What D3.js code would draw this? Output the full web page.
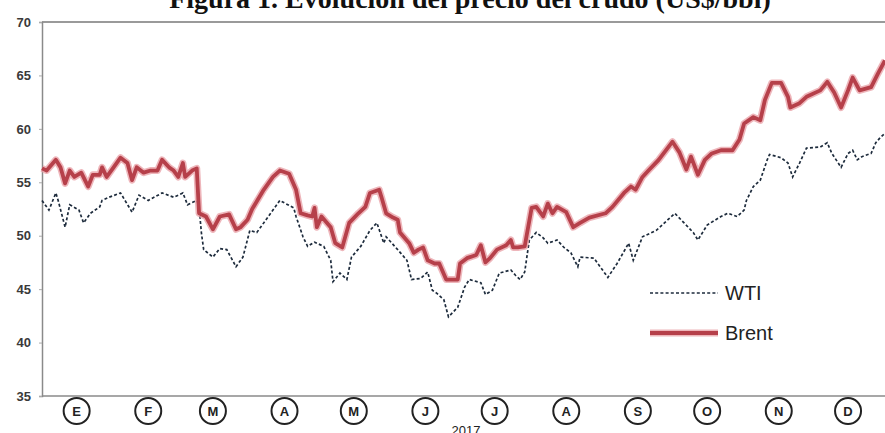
<!DOCTYPE html>
<html>
<head>
<meta charset="utf-8">
<script src="https://cdn.jsdelivr.net/npm/d3@7"></script>
<style>
    body { margin: 0; background: #fff; }
    svg { display: block; }
    .ylab { font-family: "Liberation Sans Narrow", "Liberation Sans", Arial, sans-serif; font-weight: bold; font-size: 13px; fill: #3a3a3a; }
    .mon { font-family: "Liberation Sans", Arial, sans-serif; font-weight: bold; font-size: 13px; fill: #222; }
    .leg { font-family: "Liberation Sans", Arial, sans-serif; font-size: 20px; fill: #222; }
</style>
</head>
<body>
<svg class="chart"></svg>
<script>
// day of year 2017, price US$/bbl
var brent = [[0,56.3],[2,56.1],[6,57.1],[8,56.4],[10,54.9],[12,56.1],[14,55.5],[17,55.9],[20,54.6],[22,55.7],
    [25,55.7],[26,56.4],[28,55.5],[31,56.4],[34,57.3],[37,56.8],[39,55.2],[41,56.4],[44,55.9],[47,56.1],
    [50,56.1],[52,57.1],[55,56.4],[57,56.1],[59,55.5],[61,56.8],[62,55.5],[65,56.1],[67,56.3],[68,52.1],
    [71,51.8],[74,50.6],[77,51.8],[81,52.0],[84,50.6],[86,50.8],[89,51.5],[91,52.5],[96,54.3],[100,55.5],
    [103,56.1],[107,55.8],[110,54.3],[112,52.1],[115,51.9],[117,51.8],[118,52.6],[119,50.8],[121,51.8],[125,50.8],
    [127,49.3],[130,48.9],[133,51.2],[137,52.1],[140,52.7],[142,54.0],[146,54.3],[147,53.6],[149,52.1],[152,51.7],
    [154,51.5],[155,50.3],[159,49.3],[161,48.4],[163,48.7],[165,48.9],[167,47.7],[170,47.4],[172,47.4],[175,45.9],
    [180,45.9],[181,47.4],[184,47.9],[188,48.2],[190,49.1],[192,47.5],[194,47.9],[197,48.7],[201,49.1],[203,49.6],
    [204,48.9],[206,48.9],[209,49.0],[212,52.6],[214,52.7],[217,51.8],[219,53.0],[221,52.1],[223,52.7],[227,52.2],
    [230,50.8],[233,51.2],[237,51.7],[244,52.1],[247,52.7],[252,54.0],[255,54.6],[257,54.3],[260,55.5],[263,56.2],
    [267,57.1],[273,58.8],[276,57.8],[279,56.2],[281,57.4],[284,55.7],[287,57.1],[290,57.7],[294,58.0],[299,58.0],
    [302,59.0],[304,60.5],[308,61.1],[311,60.8],[313,62.7],[316,64.3],[320,64.3],[323,63.0],[324,62.0],[328,62.4],
    [331,63.0],[337,63.6],[340,64.4],[343,63.4],[346,62.0],[349,63.6],[351,64.8],[354,63.6],[359,63.9],[362,65.2],
    [365,66.4]];

var wti = [[0,53.3],[3,52.4],[6,54.0],[7,53.3],[10,50.8],[12,52.9],[16,52.4],[18,51.2],[21,52.1],[25,52.7],
    [26,53.3],[29,53.6],[34,54.0],[39,52.2],[42,53.8],[46,53.3],[52,54.0],[57,53.6],[61,54.0],[63,52.9],
    [67,53.3],[68,52.7],[69,50.3],[70,48.7],[74,48.0],[77,48.8],[80,48.7],[84,47.1],[87,48.0],[90,50.5],
    [93,50.3],[97,51.5],[100,52.4],[103,53.3],[109,52.6],[110,51.8],[113,49.9],[115,49.0],[118,49.4],[122,49.0],
    [125,47.7],[126,45.7],[129,46.5],[132,45.9],[134,48.0],[138,49.0],[142,50.5],[145,51.2],[148,49.3],[149,49.9],
    [154,48.7],[158,47.7],[160,45.9],[164,46.0],[167,46.6],[169,44.9],[171,44.6],[174,44.0],[176,42.4],[180,43.3],
    [183,45.2],[185,45.9],[190,45.6],[192,44.5],[195,44.9],[198,46.5],[203,46.8],[205,46.3],[207,45.9],[209,46.6],
    [211,49.6],[214,50.3],[217,49.8],[219,49.3],[223,49.6],[226,48.9],[229,48.4],[232,47.1],[233,48.0],[239,47.9],
    [245,46.1],[249,47.4],[254,49.3],[256,47.7],[260,49.9],[266,50.5],[271,51.5],[274,52.1],[278,51.2],[282,50.3],
    [284,49.6],[288,51.0],[294,51.8],[297,52.1],[301,51.8],[304,52.4],[305,53.3],[308,54.6],[311,55.2],[314,57.1],
    [315,57.6],[320,57.3],[323,56.8],[325,55.5],[328,56.8],[331,58.2],[337,58.3],[340,58.7],[342,57.7],[346,56.4],
    [349,57.7],[351,58.0],[353,57.1],[355,57.4],[359,57.7],[361,58.7],[363,59.2],[365,59.6]];

var yTicks = [35, 40, 45, 50, 55, 60, 65, 70];
var monthLabels = ["E", "F", "M", "A", "M", "J", "J", "A", "S", "O", "N", "D"];
var yearLabel = "2017";
var seriesNames = ["WTI", "Brent"];
var title = "Figura 1. Evolución del precio del crudo (US$/bbl)";

function toDate(d) {
    return {date: d3.timeDay.offset(new Date(2017, 0, 1), d[0]), value: d[1]};
}

function renderChart() {
    var W = 885, H = 433,
        left = 42, right = 885, top = 22, bottom = 396;

    var svg = d3.select(".chart")
        .attr("width", W)
        .attr("height", H);

    var x = d3.scaleTime()
        .domain([new Date(2017, 0, 1), new Date(2018, 0, 1)])
        .range([left, right]);
    var y = d3.scaleLinear()
        .domain([35, 70])
        .range([bottom, top]);

    // title, cut off at the top of the picture
    svg.append("text")
        .attr("x", 470)
        .attr("y", 8)
        .attr("text-anchor", "middle")
        .style("font-family", "'Liberation Serif', 'Times New Roman', serif")
        .style("font-weight", "bold")
        .style("font-size", "28px")
        .style("fill", "#111")
        .text(title);

    // frame
    svg.append("line")
        .attr("x1", left).attr("x2", right)
        .attr("y1", y(70)).attr("y2", y(70))
        .style("stroke", "#9a9a9a").style("stroke-width", 2);

    var yAxis = d3.axisLeft(y)
        .tickValues(yTicks)
        .tickSize(3)
        .tickPadding(8);
    var yg = svg.append("g")
        .attr("transform", "translate(" + left + ",0)")
        .call(yAxis);
    yg.select(".domain").style("stroke", "#8a8a8a").style("stroke-width", 1.5);
    yg.selectAll(".tick line").style("stroke", "#aaa");
    yg.selectAll(".tick text").attr("class", "ylab");
    yg.attr("font-size", null).attr("font-family", null);

    svg.append("line")
        .attr("x1", left).attr("x2", right)
        .attr("y1", y(35)).attr("y2", y(35))
        .style("stroke", "#8a8a8a").style("stroke-width", 1.5);

    var line = d3.line()
        .x(function(d) { return x(d.date); })
        .y(function(d) { return y(d.value); });

    var wtiData = wti.map(toDate),
        brentData = brent.map(toDate);

    svg.append("path")
        .datum(wtiData)
        .attr("d", line)
        .style("fill", "none")
        .style("stroke", "#1d2b3c")
        .style("stroke-width", 1.7)
        .style("stroke-dasharray", "3,2.2");

    svg.append("path")
        .datum(brentData)
        .attr("d", line)
        .style("fill", "none")
        .style("stroke", "#eaa4aa")
        .style("stroke-width", 7)
        .style("stroke-linejoin", "round")
        .style("opacity", 0.8);
    svg.append("path")
        .datum(brentData)
        .attr("d", line)
        .style("fill", "none")
        .style("stroke", "#b6404a")
        .style("stroke-width", 3.8)
        .style("stroke-linejoin", "round");

    // month markers
    var months = d3.range(12).map(function(i) {
        return {label: monthLabels[i], date: new Date(2017, i, 16)};
    });
    var mg = svg.selectAll(".month")
        .data(months)
        .enter()
        .append("g")
        .attr("class", "month")
        .attr("transform", function(d) { return "translate(" + x(d.date) + ",411)"; });
    mg.append("circle")
        .attr("r", 13)
        .style("fill", "#fff")
        .style("stroke", "#222")
        .style("stroke-width", 2);
    mg.append("text")
        .attr("class", "mon")
        .attr("text-anchor", "middle")
        .attr("dy", "0.36em")
        .text(function(d) { return d.label; });

    svg.append("text")
        .attr("x", 466)
        .attr("y", 435)
        .attr("text-anchor", "middle")
        .style("font-family", "'Liberation Sans', Arial, sans-serif")
        .style("font-size", "13px")
        .style("fill", "#222")
        .text(yearLabel);

    // legend
    var legend = svg.append("g").attr("transform", "translate(650,293)");
    legend.append("line")
        .attr("x1", 0).attr("x2", 68)
        .style("stroke", "#1d2b3c").style("stroke-width", 1.7)
        .style("stroke-dasharray", "3,2.2");
    legend.append("line")
        .attr("x1", 0).attr("x2", 68)
        .attr("y1", 40).attr("y2", 40)
        .style("stroke", "#eaa4aa").style("stroke-width", 7).style("opacity", 0.8);
    legend.append("line")
        .attr("x1", 0).attr("x2", 68)
        .attr("y1", 40).attr("y2", 40)
        .style("stroke", "#b6404a").style("stroke-width", 3.8);
    legend.selectAll(".leg")
        .data(seriesNames)
        .enter()
        .append("text")
        .attr("class", "leg")
        .attr("x", 75)
        .attr("y", function(d, i) { return i * 40; })
        .attr("dy", "0.35em")
        .text(function(d) { return d; });
}

renderChart();
</script>
</body>
</html>
